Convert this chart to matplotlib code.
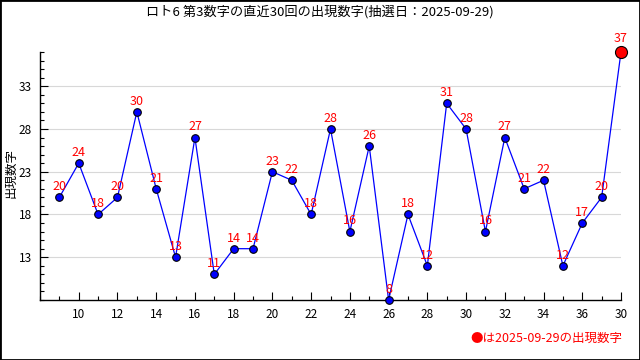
import matplotlib.pyplot as plt
import numpy as np
from matplotlib.patches import Rectangle
from matplotlib.ticker import MultipleLocator, FixedLocator

plt.rcParams['font.family'] = ['Noto Sans CJK JP', 'DejaVu Sans']

draws = list(range(9, 39))
numbers = [20, 24, 18, 20, 30, 21, 13, 27, 11, 14, 14, 23, 22, 18, 28,
           16, 26, 8, 18, 12, 31, 28, 16, 27, 21, 22, 12, 17, 20, 37]
xtick_pos = [10, 12, 14, 16, 18, 20, 22, 24, 26, 28, 30, 32, 34, 36, 38]
xtick_labels = ['10', '12', '14', '16', '18', '20', '22', '24', '26', '28',
                '30', '32', '34', '36', '30']
ytick_pos = [13, 18, 23, 28, 33]

title = 'ロト6 第3数字の直近30回の出現数字(抽選日：2025-09-29)'
note = '●は2025-09-29の出現数字'

fig = plt.figure(figsize=(6.4, 3.6), dpi=100)
ax = fig.add_axes([40 / 640, 1 - 300 / 360, 581 / 640, 248 / 360])

ax.plot(draws, numbers, color='blue', linewidth=0.9, zorder=3, clip_on=False)
ax.scatter(draws[:-1], numbers[:-1], s=30, color='blue', edgecolor='black',
           linewidth=0.8, zorder=4, clip_on=False)
ax.scatter(draws[-1:], numbers[-1:], s=75, color='red', edgecolor='black',
           linewidth=0.8, zorder=5, clip_on=False)

for x, y in zip(draws, numbers):
    off = 5 if x == draws[-1] else 3
    ax.annotate(str(y), (x, y), xytext=(0, off), textcoords='offset points',
                ha='center', va='bottom', color='red', fontsize=9,
                zorder=6, annotation_clip=False)

ax.set_xlim(8, 38)
ax.set_ylim(8, 37)
ax.xaxis.set_major_locator(FixedLocator(xtick_pos))
ax.set_xticklabels(xtick_labels)
ax.xaxis.set_minor_locator(MultipleLocator(1))
ax.yaxis.set_major_locator(FixedLocator(ytick_pos))
ax.yaxis.set_minor_locator(MultipleLocator(1))
ax.tick_params(axis='both', which='major', direction='in', length=6,
               width=0.8, labelsize=8.5, pad=6)
ax.tick_params(axis='both', which='minor', direction='in', length=3, width=0.8)

ax.grid(axis='y', which='major', color='#d8d8d8', linewidth=0.8, zorder=0)
for side in ['top', 'right']:
    ax.spines[side].set_visible(False)
for side in ['left', 'bottom']:
    ax.spines[side].set_linewidth(1.0)

fig.text(11 / 640, 1 - 173 / 360, '出現数字', rotation=90, ha='center',
         va='center', fontsize=9)
fig.text(0.5, 1 - 12 / 360, title, ha='center', va='center', fontsize=9.5)
fig.text(622 / 640, 1 - 338 / 360, note, ha='right', va='center',
         color='red', fontsize=9)

fig.patches.append(Rectangle((0, 0), 1, 1, transform=fig.transFigure,
                             fill=False, edgecolor='black', linewidth=2))

fig.savefig('out.png', dpi=100)
